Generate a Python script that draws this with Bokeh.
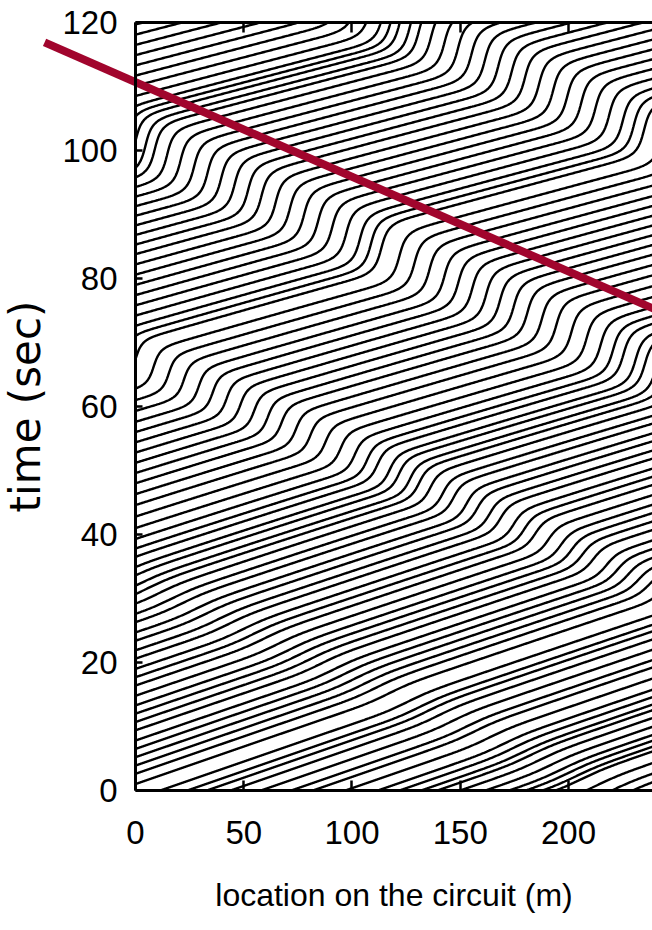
import numpy as np
from bokeh.plotting import figure
from bokeh.models import ColumnDataSource, LinearAxis, FixedTicker, Range1d
from bokeh.embed import file_html
from bokeh.resources import INLINE

# ---------------- values ----------------
# times (s) at which trajectories cross location 0 m (left edge)
left_entry_t = [1.0, 2.6, 3.9, 5.2, 6.5, 7.8, 9.4, 10.7, 12.0, 13.3, 14.8, 16.4,
                17.7, 19.0, 20.6, 21.9, 23.4, 24.7, 26.3, 27.6, 29.2, 30.7, 32.0,
                33.6, 34.9, 36.5, 37.8, 39.3, 41.0, 42.8, 44.6, 46.3, 48.0, 49.6,
                51.2, 52.8, 54.4, 56.0, 57.6, 59.3, 61.0, 62.8, 67.4, 71.0, 72.6,
                74.2, 75.8, 77.4, 79.0, 80.6, 82.2, 83.8, 85.3, 86.8, 88.3, 89.8,
                91.3, 92.8, 94.3, 95.8, 97.3, 101.5, 105.3, 106.9, 108.5, 110.1,
                111.7, 113.3, 114.9, 116.5, 118.1, 119.7]
# locations (m) where trajectories start on the time-0 edge
bottom_start_x = [11.5, 24.0, 33.0, 44.0, 58.0, 72.0, 82.0, 97.0, 112.0, 122.0,
                  132.0, 139.5, 150.0, 161.7, 172.6, 180.3, 188.0, 194.0, 208.0,
                  220.0, 229.6]
# free-flow pace of the vehicles (s per m) against time
free_pace_t = [0, 35, 60, 90, 120]
free_pace = [0.118, 0.112, 0.100, 0.092, 0.088]
# jam bands: time at location 0, backward slope (s per m), width (s)
jam_t0 = [32.5, 67.5, 101.5, 138.0]
jam_slope = -0.148
jam_width = [3.5, 2.6, 3.2, 3.3]
jam_x = [0, 120, 240]
jam_pace = [[0.05, 0.05, 0.04],
            [0.95, 0.60, 0.22],
            [1.25, 1.15, 1.05],
            [1.20, 1.20, 1.20]]
# red line (jam front)
red_x = [-42.0, 250.0]
red_t = [116.9, 73.7]
x_ticks = [0, 50, 100, 150, 200]
t_ticks = [0, 20, 40, 60, 80, 100, 120]
x_start, x_end = 0.0, 238.8
t_start, t_end = 0.0, 120.0

# ---------------- trajectories ----------------
def pace(x, t):
    p = np.interp(t, free_pace_t, free_pace)
    for k in range(len(jam_t0)):
        a = np.interp(x, jam_x, jam_pace[k])
        u = t - (jam_t0[k] + jam_slope * x)
        p = p + a * np.exp(-(u / jam_width[k]) ** 2)
    return p

dx = 0.1
xg = np.arange(0, 241.0, dx)
n_l, n_b = len(left_entry_t), len(bottom_start_x)
start = np.array([0.0] * n_l + list(bottom_start_x))
t = np.array(list(left_entry_t) + [np.nan] * n_b, dtype=float)
T = np.full((n_l + n_b, len(xg)), np.nan)
with np.errstate(invalid="ignore"):
    for i, x in enumerate(xg):
        newly = np.isnan(t) & (start <= x + 1e-9)
        t[newly] = 0.0
        T[:, i] = t
        k1 = pace(x, np.nan_to_num(t))
        k2 = pace(x + dx / 2, np.nan_to_num(t) + k1 * dx / 2)
        t = t + k2 * dx

xs, ys = [], []
for j in range(n_l + n_b):
    row = T[j]
    m = ~np.isnan(row)
    xx, tt = xg[m], row[m]
    above = np.nonzero(tt > t_end)[0]
    if above.size:
        k = above[0]
        if k == 0:
            continue
        f = (t_end - tt[k - 1]) / (tt[k] - tt[k - 1])
        xc = xx[k - 1] + f * (xx[k] - xx[k - 1])
        xx = np.append(xx[:k], xc)
        tt = np.append(tt[:k], t_end)
    sel = sorted(set(range(0, len(xx), 5)) | {len(xx) - 1})
    xs.append(xx[sel].tolist())
    ys.append(tt[sel].tolist())

src = ColumnDataSource(dict(xs=xs, ys=ys))

# the frame fills the whole canvas; axes are pinned at the data edges
W, H = 652, 926
fl, fr, ft, fb = 135.0, 652.0, 22.0, 790.0      # plot box in pixels
mx = (fr - fl) / (x_end - x_start)
my = (fb - ft) / (t_end - t_start)
p = figure(width=W, height=H,
           x_range=Range1d(x_start - fl / mx, x_end + (W - fr) / mx),
           y_range=Range1d(t_start - (H - fb) / my, t_end + ft / my),
           output_backend="svg", toolbar_location=None,
           min_border_left=0, min_border_right=0, min_border_top=0, min_border_bottom=0,
           outline_line_color=None, background_fill_color="white", border_fill_color="white")
p.grid.visible = False

p.multi_line(xs="xs", ys="ys", source=src, line_color="black", line_width=2.4)
p.line(red_x, red_t, line_color="#A1052D", line_width=8)

font = "Liberation Sans"
for ax in (p.xaxis[0], p.yaxis[0]):
    ax.axis_line_width = 3
    ax.axis_line_color = "black"
    ax.major_tick_out = 0
    ax.major_tick_line_width = 2.5
    ax.minor_tick_line_color = None
    ax.major_label_text_font = font
    ax.major_label_text_font_size = "33px"
    ax.major_label_text_color = "black"
    ax.axis_label_text_font_style = "normal"
    ax.axis_label_text_color = "black"

xa = p.xaxis[0]
xa.ticker = FixedTicker(ticks=x_ticks)
xa.bounds = (x_start, x_end)
xa.fixed_location = t_start
xa.major_tick_in = 10
xa.major_label_standoff = 30
xa.axis_label = "location on the circuit (m)"
xa.axis_label_text_font = font
xa.axis_label_text_font_size = "32px"
xa.axis_label_standoff = 30

ya = p.yaxis[0]
ya.ticker = FixedTicker(ticks=t_ticks)
ya.bounds = (t_start, t_end)
ya.fixed_location = x_start
ya.major_tick_in = 7
ya.major_label_standoff = 18
ya.axis_label = "time (sec)"
ya.axis_label_text_font = "DejaVu Sans"
ya.axis_label_text_font_size = "42px"
ya.axis_label_standoff = 9

top = LinearAxis(ticker=FixedTicker(ticks=x_ticks), bounds=(x_start, x_end),
                 fixed_location=t_end, axis_line_width=3, major_tick_in=10,
                 major_tick_out=0, major_tick_line_width=2.5, minor_tick_line_color=None,
                 major_label_overrides={k: "" for k in x_ticks}, major_label_standoff=0)
p.add_layout(top, "above")

open("out.html", "w").write(file_html(p, INLINE))
